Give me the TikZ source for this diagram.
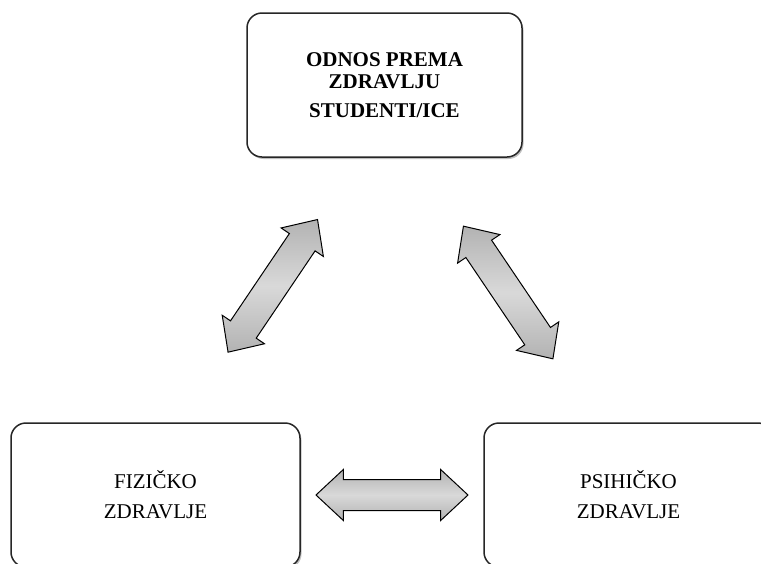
\documentclass[tikz,border=0pt]{standalone}
\usepackage{fontspec}
\setmainfont{Liberation Serif}
\usetikzlibrary{calc}
\usetikzlibrary{shapes.arrows}
\usetikzlibrary{shadows}

\tikzset{
	box/.style={draw=black!85, line width=1.5pt, rounded corners=15pt, fill=white,
		align=center, font=\fontsize{21}{30}\selectfont,
		drop shadow={shadow xshift=1.5pt, shadow yshift=-2pt, opacity=.25, fill=black}},
	dblarrow/.style={double arrow, draw=black, line width=1pt, inner xsep=0pt, inner ysep=15pt,
		minimum width=50pt, double arrow head extend=10pt, double arrow tip angle=86,
		top color=gray!60, bottom color=gray!60, middle color=gray!30}
}

\begin{document}
\begin{tikzpicture}[x=1pt,y=-1pt]
	\clip (0,0) rectangle (761,563);
	\fill[white] (0,0) rectangle (761,563);

	% the three boxes
	\node[box, minimum width=275pt, minimum height=144pt, font=\bfseries\fontsize{21}{22.5}\selectfont] (top) at (384.5,85)
		{ODNOS PREMA\\ ZDRAVLJU\\[6.5pt] STUDENTI/ICE};
	\node[box, minimum width=289pt, minimum height=144pt] (fiz) at (155.5,495) {FIZIČKO\\ ZDRAVLJE};
	\node[box, minimum width=289pt, minimum height=144pt] (psi) at (628.5,495) {PSIHIČKO\\ ZDRAVLJE};

	% block arrows in between
	\node[dblarrow, minimum height=160pt, rotate=56, xshift=5pt] (a1) at ($(top.south)!.5!(fiz.north)$) {};
	\node[dblarrow, minimum height=160pt, rotate=-56, xshift=3pt] (a2) at ($(top.south)!.5!(psi.north)$) {};
	\node[dblarrow, minimum height=152pt] (a3) at ($(fiz.east)!.5!(psi.west)$) {};
\end{tikzpicture}
\end{document}
